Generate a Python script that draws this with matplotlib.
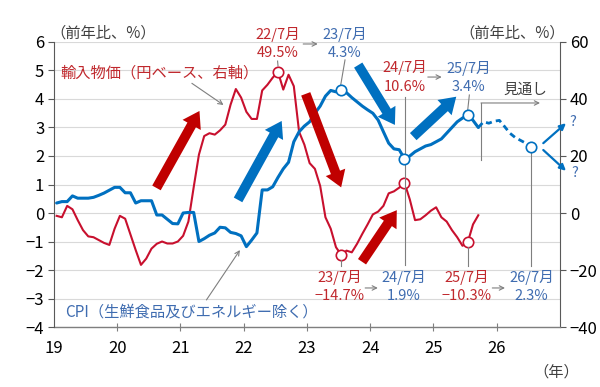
import numpy as np
import matplotlib
matplotlib.use("Agg")
import matplotlib.pyplot as plt
from matplotlib.patches import FancyArrowPatch

plt.rcParams['font.family'] = ['Noto Sans CJK JP', 'DejaVu Sans']
plt.rcParams['axes.unicode_minus'] = True

# ---------------- data (monthly, from Jan 2019) ----------------
start_year = 2019
# CPI excl. fresh food & energy, y/y % (left axis), Jan 2019 - Sep 2025
cpi = [0.35, 0.40, 0.40, 0.60, 0.52, 0.52, 0.52, 0.55, 0.62, 0.70, 0.80, 0.90,
       0.90, 0.71, 0.71, 0.35, 0.43, 0.43, 0.43, -0.07, -0.07, -0.22, -0.37, -0.38,
       0.00, 0.02, 0.02, -1.00, -0.90, -0.78, -0.70, -0.50, -0.52, -0.68, -0.72, -0.80,
       -1.18, -0.95, -0.70, 0.81, 0.81, 0.92, 1.25, 1.55, 1.78, 2.50, 2.85, 3.05,
       3.20, 3.50, 3.75, 4.10, 4.30, 4.25, 4.30, 4.22, 4.05, 3.90, 3.75, 3.62,
       3.50, 3.26, 2.85, 2.45, 2.25, 2.22, 1.90, 2.00, 2.15, 2.25, 2.35, 2.40,
       2.50, 2.60, 2.80, 3.00, 3.20, 3.33, 3.44, 3.25, 3.00]
# CPI outlook, Sep 2025 - Jul 2026 (dashed)
cpi_outlook_start = 80
cpi_outlook = [3.00, 3.20, 3.15, 3.22, 3.25, 3.03, 2.80, 2.65, 2.55, 2.45, 2.30]
# Import prices (yen basis), y/y % (right axis), Jan 2019 - Sep 2025
imp = [-1.0, -1.5, 2.5, 1.3, -2.5, -6.0, -8.2, -8.5, -9.5, -10.5, -11.2, -5.5,
       -1.0, -2.0, -7.5, -13.0, -18.2, -16.0, -12.5, -10.8, -10.0, -10.7, -10.7, -10.0,
       -8.0, -3.0, 9.0, 20.5, 27.0, 28.0, 27.5, 29.0, 31.0, 38.0, 43.5, 40.5,
       35.5, 33.0, 33.0, 43.0, 45.0, 47.5, 49.5, 43.3, 48.5, 44.5, 28.5, 24.0,
       17.5, 15.5, 9.5, -1.5, -5.5, -12.0, -14.7, -13.2, -13.8, -10.8, -7.3, -4.0,
       -0.5, 0.5, 2.5, 6.9, 7.6, 8.9, 10.6, 4.8, -2.5, -2.2, -0.8, 0.8,
       2.0, -1.5, -3.0, -6.0, -8.5, -11.5, -10.3, -4.0, -0.8]
year_ticks = list(range(2019, 2027))
year_labels = ['19', '20', '21', '22', '23', '24', '25', '26']

# highlighted months (index from Jan 2019)
imp_marks = [42, 54, 66, 78]          # 22/7, 23/7, 24/7, 25/7
cpi_marks = [54, 66, 78]              # 23/7, 24/7, 25/7
outlook_mark = 90                     # 26/7

RED = '#C8102E'
RED_TXT = '#C0282D'
RED_ARW = '#C00000'
BLUE = '#0070C0'
BLUE_TXT = '#3F6CB0'
GRAY = '#7F7F7F'
DARK = '#404040'

def mx(i):
    return start_year + (np.asarray(i) + 0.5) / 12.0

x_cpi = mx(np.arange(len(cpi)))
x_imp = mx(np.arange(len(imp)))
x_out = mx(np.arange(cpi_outlook_start, cpi_outlook_start + len(cpi_outlook)))
cpi_arr = np.array(cpi)
imp_arr = np.array(imp)
out_arr = np.array(cpi_outlook)

fig = plt.figure(figsize=(6.0, 3.87), dpi=100)
ax = fig.add_axes([0.09, 0.155, 0.8433, 0.7365])
ax2 = ax.twinx()
ax.set_zorder(ax2.get_zorder() + 1)
ax.patch.set_visible(False)

# ---- right axis: import prices ----
ax2.set_ylim(-40, 60)
ax2.set_yticks(range(-40, 61, 20))
ax2.set_yticks(range(-40, 61, 10), minor=True)
ax2.grid(True, which='both', axis='y', color='#D9D9D9', lw=0.8)
ax2.tick_params(axis='y', which='minor', length=0)
ax2.tick_params(axis='y', which='major', length=4, color='#595959', labelsize=12, pad=3)
ax2.plot(x_imp, imp_arr, color=RED, lw=1.5, zorder=3)
ax2.plot(x_imp[imp_marks], imp_arr[imp_marks], 'o', ms=7.5, mfc='white', mec=RED, mew=1.2, zorder=4)
for s in ['top', 'left', 'bottom']:
    ax2.spines[s].set_visible(False)
ax2.spines['right'].set_color('#595959')

# ---- left axis: CPI ----
ax.set_xlim(2019, 2027)
ax.set_ylim(-4, 6)
ax.set_yticks(range(-4, 7))
ax.tick_params(axis='y', length=4, color='#595959', labelsize=12, pad=3)
ax.set_xticks(year_ticks)
ax.set_xticklabels(year_labels)
ax.tick_params(axis='x', length=0, labelsize=12, pad=9)
for s in ['top', 'right', 'bottom']:
    ax.spines[s].set_visible(False)
ax.spines['left'].set_color('#595959')
zero = ax.secondary_xaxis(0)
zero.set_xticks(year_ticks[1:])
zero.tick_params(axis='x', direction='inout', length=6, color='#7F7F7F', labelbottom=False)
zero.spines['bottom'].set_color('#7F7F7F')
zero.spines['bottom'].set_linewidth(1.0)

ax.plot(x_cpi, cpi_arr, color=BLUE, lw=2.2, zorder=3, solid_capstyle='round')
ax.plot(x_out, out_arr, color=BLUE, lw=2.0, ls=(0, (2.2, 1.5)), zorder=3)
ax.plot(x_cpi[cpi_marks], cpi_arr[cpi_marks], 'o', ms=7.5, mfc='white', mec=BLUE, mew=1.2, zorder=5)
ax.plot([mx(outlook_mark)], [out_arr[outlook_mark - cpi_outlook_start]], 'o', ms=7.5,
        mfc='white', mec=BLUE, mew=1.2, zorder=5)

# ---- big trend arrows ----
def big_arrow(p0, p1, color):
    a = FancyArrowPatch(p0, p1, arrowstyle='simple,head_length=1.15,head_width=1.5,tail_width=0.7',
                        mutation_scale=10, color=color, lw=0, shrinkA=0, shrinkB=0, zorder=6)
    ax.add_patch(a)

big_arrow((2020.62, 0.88), (2021.30, 3.58), RED_ARW)
big_arrow((2021.91, 0.46), (2022.60, 3.23), BLUE)
big_arrow((2022.98, 4.18), (2023.54, 0.90), RED_ARW)
big_arrow((2023.81, 5.19), (2024.39, 3.09), BLUE)
big_arrow((2023.87, -1.71), (2024.42, 0.10), RED_ARW)
big_arrow((2024.68, 2.68), (2025.36, 4.08), BLUE)

# ---- small gray arrows / leader lines ----
def small_arrow(p0, p1, color=GRAY, lw=0.8, style='->', ms=8):
    ax.annotate('', xy=p1, xytext=p0, annotation_clip=False,
                arrowprops=dict(arrowstyle=style, color=color, lw=lw, shrinkA=0, shrinkB=0,
                                mutation_scale=ms))

small_arrow((2022.94, 5.93), (2023.17, 5.93))
small_arrow((2024.91, 4.77), (2025.13, 4.77))
small_arrow((2023.92, -2.63), (2024.12, -2.63))
small_arrow((2025.93, -2.63), (2026.13, -2.63))
small_arrow((2021.18, 4.55), (2021.68, 3.79))
small_arrow((2021.41, -3.05), (2021.94, -1.30))

lk = dict(color=GRAY, lw=0.8, zorder=2, clip_on=False)
ax.plot([2022.542, 2022.535], [5.16, 5.33], **lk)
ax.plot([2023.533, 2023.601], [4.49, 5.37], **lk)
ax.plot([2024.542, 2024.542], [4.07, -1.82], **lk)
ax.plot([2025.541, 2025.567], [3.61, 4.14], **lk)
ax.plot([2023.542, 2023.542], [-1.65, -1.86], **lk)
ax.plot([2025.541, 2025.541], [-1.19, -1.86], **lk)
ax.plot([2026.542, 2026.542], [2.14, -1.86], **lk)
ax.plot([2025.751, 2025.751], [1.86, 3.86], **lk)
small_arrow((2025.751, 3.86), (2026.684, 3.86))

small_arrow((2026.736, 2.45), (2027.095, 3.15), color=BLUE, lw=1.6, style='-|>', ms=9)
small_arrow((2026.736, 2.21), (2027.095, 1.48), color=BLUE, lw=1.6, style='-|>', ms=9)

# ---- texts ----
def t(x, y, s, c, **kw):
    ax.text(x, y, s, color=c, fontsize=10.5, ha='center', va='center', clip_on=False, **kw)

t(2022.542, 6.25, '22/7月', RED_TXT)
t(2022.542, 5.60, '49.5%', RED_TXT)
t(2023.60, 6.25, '23/7月', BLUE_TXT)
t(2023.60, 5.61, '4.3%', BLUE_TXT)
t(2024.542, 5.12, '24/7月', RED_TXT)
t(2024.55, 4.42, '10.6%', RED_TXT)
t(2025.55, 5.08, '25/7月', BLUE_TXT)
t(2025.55, 4.43, '3.4%', BLUE_TXT)
t(2026.46, 4.32, '見通し', DARK)
t(2027.21, 3.20, '?', BLUE_TXT)
t(2027.24, 1.41, '?', BLUE_TXT)
t(2023.52, -2.25, '23/7月', RED_TXT)
t(2023.52, -2.91, '−14.7%', RED_TXT)
t(2024.53, -2.25, '24/7月', BLUE_TXT)
t(2024.53, -2.91, '1.9%', BLUE_TXT)
t(2025.53, -2.25, '25/7月', RED_TXT)
t(2025.53, -2.91, '−10.3%', RED_TXT)
t(2026.55, -2.25, '26/7月', BLUE_TXT)
t(2026.55, -2.91, '2.3%', BLUE_TXT)

ax.text(2019.095, 4.91, '輸入物価（円ベース、右軸）', color=RED_TXT, fontsize=11, ha='left', va='center')
ax.text(2019.174, -3.47, 'CPI（生鮮食品及びエネルギー除く）', color=BLUE_TXT, fontsize=11,
        ha='left', va='center')

fig.text(50 / 600, 1 - 33 / 387, '（前年比、%）', color=DARK, fontsize=11, ha='left', va='center')
fig.text(565 / 600, 1 - 33 / 387, '（前年比、%）', color=DARK, fontsize=11, ha='right', va='center')
fig.text(556 / 600, 1 - 372 / 387, '（年）', color=DARK, fontsize=11, ha='center', va='center')

fig.savefig('out.png', dpi=100)
